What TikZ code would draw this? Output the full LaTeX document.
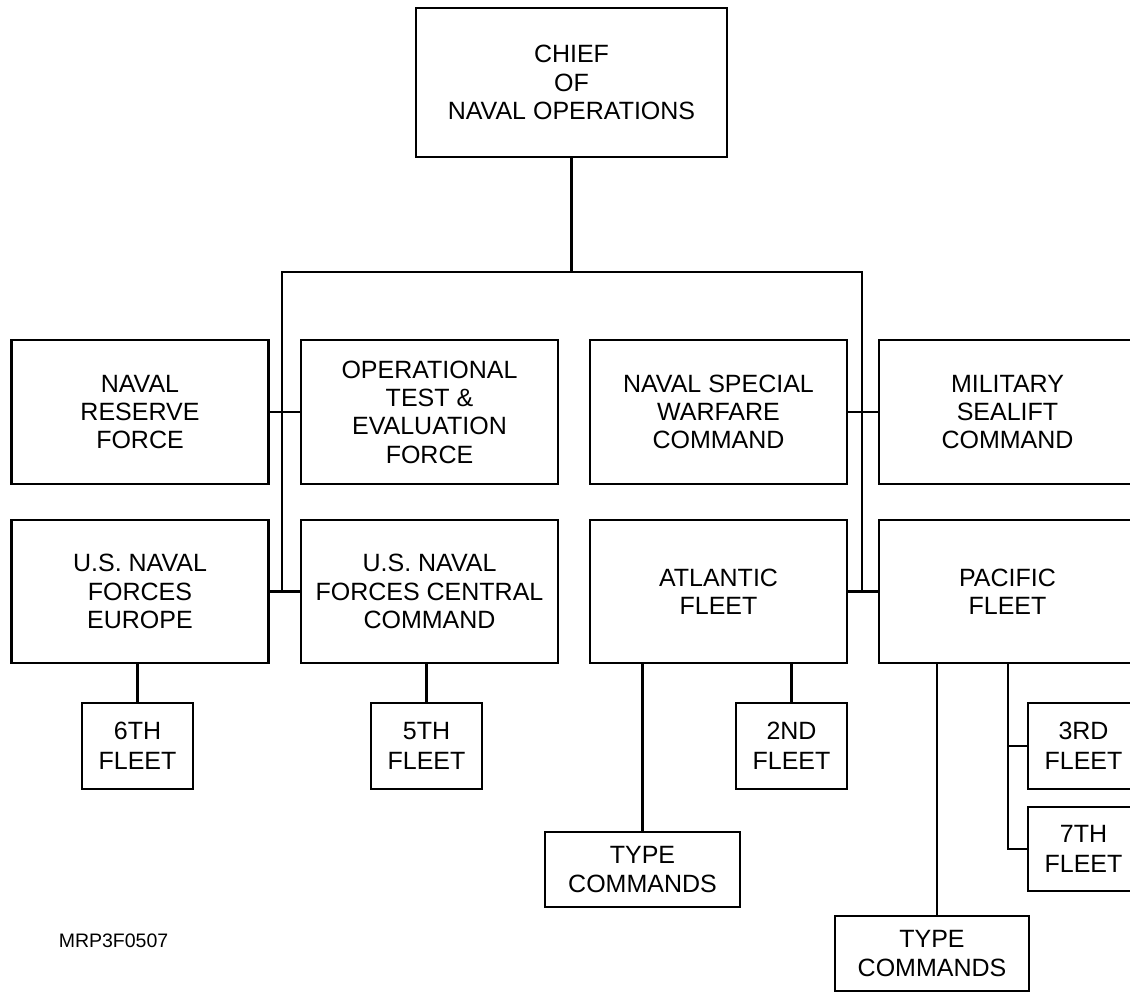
\documentclass[tikz,border=0pt]{standalone}
\usepackage{fontspec}
\setmainfont{Liberation Sans}

\begin{document}
\begin{tikzpicture}[x=1pt,y=-1pt,line width=2.7pt,
    unit/.style={draw,minimum width=257pt,minimum height=144pt,inner sep=0pt,align=center,font=\fontsize{25}{28.3}\selectfont},
    fleet/.style={unit,minimum width=111pt,minimum height=86pt,font=\fontsize{25}{30}\selectfont},
    typecmd/.style={unit,minimum width=195pt,minimum height=75pt}]
            \useasboundingbox (0,0) rectangle (1130,992);
            \clip (0,0) rectangle (1130,992);
            \node [unit,minimum width=311pt,minimum height=149pt] (cno) at (571.5,82.5) {CHIEF\\OF\\NAVAL OPERATIONS};
            \node [unit] (nrf) at (140,412) {NAVAL\\RESERVE\\FORCE};
            \node [unit] (otef) at (429.5,412) {OPERATIONAL\\TEST \&\\EVALUATION\\FORCE};
            \node [unit] (nswc) at (718.5,412) {NAVAL SPECIAL\\WARFARE\\COMMAND};
            \node [unit] (msc) at (1007.5,412) {MILITARY\\SEALIFT\\COMMAND};
            \node [unit,minimum height=143pt] (eur) at (140,591.5) {U.S. NAVAL\\FORCES\\EUROPE};
            \node [unit,minimum height=143pt] (cent) at (429.5,591.5) {U.S. NAVAL\\FORCES CENTRAL\\COMMAND};
            \node [unit,minimum height=143pt] (atl) at (718.5,591.5) {ATLANTIC\\FLEET};
            \node [unit,minimum height=143pt] (pac) at (1007.5,591.5) {PACIFIC\\FLEET};
            \node [fleet] (f6) at (137.5,746) {6TH\\FLEET};
            \node [fleet] (f5) at (426.5,746) {5TH\\FLEET};
            \node [fleet] (f2) at (791.5,746) {2ND\\FLEET};
            \node [fleet] (f3) at (1083.5,746) {3RD\\FLEET};
            \node [fleet,minimum height=84pt] (f7) at (1083.5,849) {7TH\\FLEET};
            \node [typecmd] (tca) at (642.5,869.5) {TYPE\\COMMANDS};
            \node [typecmd,minimum width=194pt] (tcp) at (932,953.5) {TYPE\\COMMANDS};
            \node [inner sep=0pt,font=\fontsize{19.5}{22}\selectfont] (tag) at (113.5,941) {MRP3F0507};
            \coordinate (busl) at (282,272);
            \coordinate (busr) at (862,272);
            \coordinate (pacl) at (937,663);
            \coordinate (pacr) at (1008,663);
            \draw (cno.south) -- (cno.south |- busl);
            \draw (busl |- eur.east) -- (busl) -- (busr) -- (busr |- atl.east);
            \draw (nrf.east) -- (otef.west);
            \draw (eur.east) -- (cent.west);
            \draw (nswc.east) -- (msc.west);
            \draw (atl.east) -- (pac.west);
            \draw (f6.north) -- (f6.north |- eur.south);
            \draw (f5.north) -- (f5.north |- cent.south);
            \draw (f2.north) -- (f2.north |- atl.south);
            \draw (tca.north) -- (tca.north |- atl.south);
            \draw (tcp.north -| pacl) -- (pacl);
            \draw (pacr) |- (f7.west);
            \draw (f3.west) -- (f3.west -| pacr);
        \end{tikzpicture}
\end{document}
